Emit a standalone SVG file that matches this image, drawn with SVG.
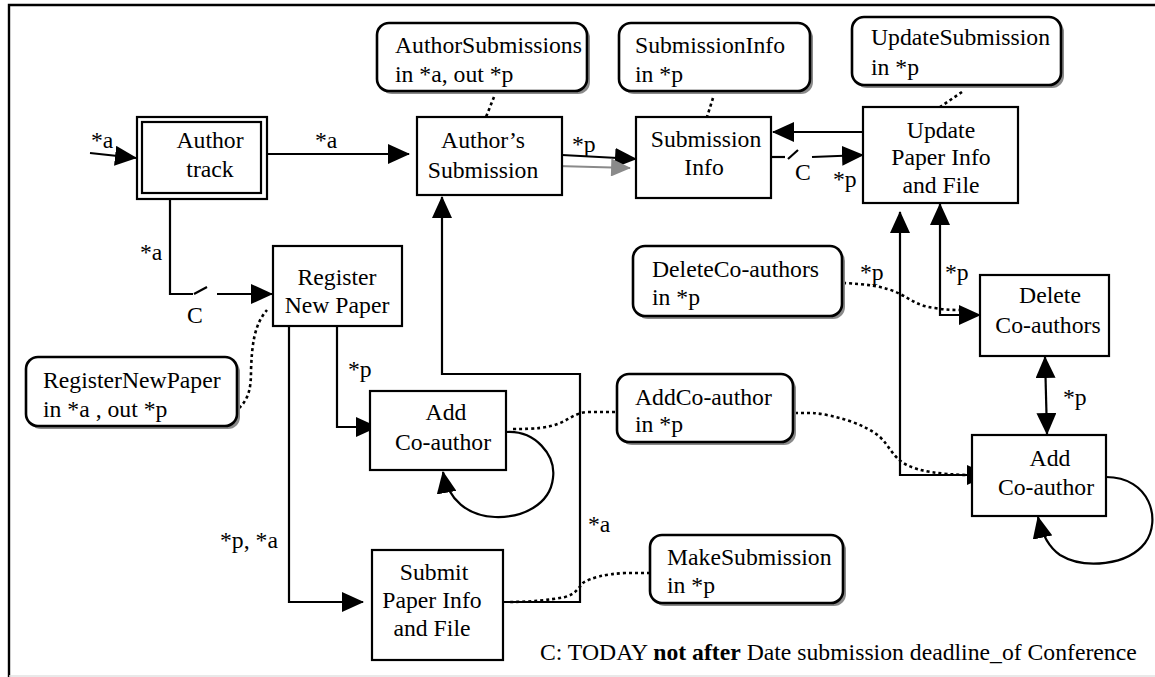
<svg xmlns="http://www.w3.org/2000/svg" width="1155" height="677" viewBox="0 0 1155 677">
  <defs>
    <style>
      text { font-family: "Liberation Serif", "Times New Roman", serif; font-size: 23.7px; fill: #000; }
      .mid { text-anchor: middle; }
      .box { fill: #fff; stroke: #000; stroke-width: 2.2; }
      .note { fill: #fff; stroke: #000; stroke-width: 2.6; }
      .shadow { fill: #8a8a8a; stroke: none; }
      .link { fill: none; stroke: #000; stroke-width: 2.2; }
      .dots { fill: none; stroke: #000; stroke-width: 2.6; stroke-dasharray: 3 3; }
      .grey { fill: none; stroke: #8a8a8a; stroke-width: 2.2; }
    </style>
    <marker id="arr" markerUnits="userSpaceOnUse" viewBox="0 0 22 20" markerWidth="22" markerHeight="20" refX="21" refY="10" orient="auto-start-reverse">
      <path d="M0,0 L22,10 L0,20 Z" fill="#000"/>
    </marker>
    <marker id="arrGrey" markerUnits="userSpaceOnUse" viewBox="0 0 22 20" markerWidth="22" markerHeight="18" refX="21" refY="10" orient="auto">
      <path d="M0,0 L22,10 L0,20 Z" fill="#8a8a8a"/>
    </marker>
  </defs>

  <rect width="1155" height="677" fill="#fff"/>

  <!-- frame -->
  <path d="M9,677 L9,5 L1155,5" fill="none" stroke="#000" stroke-width="2.4"/>
  <line x1="9" y1="676" x2="1155" y2="676" stroke="#e2e2e2" stroke-width="1.5"/>

  <!-- connectors -->
  <g id="connectors">
    <!-- into Author track -->
    <line class="link" x1="90" y1="153" x2="136" y2="158" marker-end="url(#arr)"/>
    <text x="91" y="148">*a</text>
    <!-- Author track to Author's Submission -->
    <line class="link" x1="267" y1="154" x2="409" y2="154" marker-end="url(#arr)"/>
    <text x="315" y="148">*a</text>
    <!-- Author track to Register New Paper, guarded by C -->
    <path class="link" d="M170,199 L170,294 L193,294"/>
    <line class="link" x1="194" y1="294" x2="207" y2="287"/>
    <line class="link" x1="217" y1="294" x2="272" y2="294" marker-end="url(#arr)"/>
    <text x="140" y="260">*a</text>
    <text x="187" y="323">C</text>
    <!-- Author's Submission to Submission Info -->
    <line class="link" x1="562" y1="155" x2="636" y2="159" marker-end="url(#arr)"/>
    <line class="grey" x1="557" y1="166" x2="630" y2="168" marker-end="url(#arrGrey)"/>
    <text x="572" y="152">*p</text>
    <!-- Update back to Submission Info -->
    <line class="link" x1="863" y1="132" x2="773" y2="132" marker-end="url(#arr)"/>
    <!-- Submission Info to Update, guarded by C -->
    <line class="link" x1="771" y1="157" x2="785" y2="157"/>
    <line class="link" x1="788" y1="159" x2="798" y2="150"/>
    <line class="link" x1="812" y1="157" x2="863" y2="155" marker-end="url(#arr)"/>
    <text x="795" y="180">C</text>
    <text x="833" y="187">*p</text>
    <!-- Register New Paper to Add Co-author -->
    <path class="link" d="M337,326 L337,427 L377,427" marker-end="url(#arr)"/>
    <text x="348" y="377">*p</text>
    <!-- Register New Paper to Submit -->
    <path class="link" d="M289,326 L289,602 L363,602" marker-end="url(#arr)"/>
    <text x="220" y="548">*p, *a</text>
    <!-- Submit back to Author's Submission -->
    <path class="link" d="M503,602 L580,602 L580,374 L442,374 L442,197" marker-end="url(#arr)"/>
    <text x="588" y="532">*a</text>
    <!-- Add Co-author repeat loop -->
    <path class="link" d="M506,432 C535,430 556,455 553,478 C550,505 522,518 495,517 C468,516 448,500 443,472" marker-end="url(#arr)"/>
    <!-- Update <-> Add Co-author (right) -->
    <path class="link" d="M900,212 L900,475 L988,475" marker-start="url(#arr)" marker-end="url(#arr)"/>
    <!-- Update <-> Delete Co-authors -->
    <path class="link" d="M940,204 L940,315 L980,315" marker-start="url(#arr)" marker-end="url(#arr)"/>
    <text x="945" y="280">*p</text>
    <text x="860" y="280">*p</text>
    <!-- Delete Co-authors <-> Add Co-author -->
    <line class="link" x1="1045" y1="357" x2="1047" y2="434" marker-start="url(#arr)" marker-end="url(#arr)"/>
    <text x="1063" y="405">*p</text>
    <!-- Add Co-author (right) repeat loop -->
    <path class="link" d="M1106,477 C1150,477 1162,520 1145,543 C1128,565 1085,570 1060,555 C1050,548 1042,535 1038,517" marker-end="url(#arr)"/>

    <!-- dotted links from the operation notes -->
    <path class="dots" d="M494,97 L486,117"/>
    <path class="dots" d="M713,98 L707,117"/>
    <path class="dots" d="M962,92 L940,107"/>
    <path class="dots" d="M239,408 C250,398 251,385 251,370 C252,345 254,325 267,310"/>
    <path class="dots" d="M843,283 C865,284 885,286 900,294 C912,300 918,306 935,308 C945,310 955,310 962,310"/>
    <path class="dots" d="M615,412 L587,412 C575,413 568,420 560,423 C548,428 535,429 513,429"/>
    <path class="dots" d="M795,413 L813,413 C835,415 865,424 880,437 C890,447 893,457 905,464 C920,472 940,474 966,475"/>
    <path class="dots" d="M650,573 L625,573 C605,574 590,578 583,583 C577,590 575,594 565,597 C550,600 530,602 508,602"/>
  </g>

  <!-- nodes -->
  <g id="author-track">
    <rect class="box" x="137" y="117" width="130" height="82"/>
    <rect class="box" x="142" y="122" width="119" height="71"/>
    <text class="mid" x="210" y="148">Author</text>
    <text class="mid" x="210" y="177">track</text>
  </g>

  <g id="authors-submission">
    <rect class="box" x="417" y="117" width="145" height="78"/>
    <text class="mid" x="483" y="148">Author’s</text>
    <text class="mid" x="483" y="178">Submission</text>
  </g>

  <g id="submission-info">
    <rect class="box" x="636" y="117" width="135" height="81"/>
    <text class="mid" x="706" y="147">Submission</text>
    <text class="mid" x="704" y="175">Info</text>
  </g>

  <g id="update-paper">
    <rect class="box" x="863" y="107" width="155" height="96"/>
    <text class="mid" x="941" y="138">Update</text>
    <text class="mid" x="941" y="165">Paper Info</text>
    <text class="mid" x="941" y="193">and File</text>
  </g>

  <g id="register-new-paper">
    <rect class="box" x="273" y="246" width="129" height="80"/>
    <text class="mid" x="337" y="285">Register</text>
    <text class="mid" x="337" y="313">New Paper</text>
  </g>

  <g id="add-coauthor-left">
    <rect class="box" x="370" y="391" width="136" height="79"/>
    <text class="mid" x="446" y="420">Add</text>
    <text class="mid" x="443" y="450">Co-author</text>
  </g>

  <g id="submit-paper">
    <rect class="box" x="372" y="550" width="131" height="110"/>
    <text class="mid" x="434" y="580">Submit</text>
    <text class="mid" x="432" y="608">Paper Info</text>
    <text class="mid" x="432" y="636">and File</text>
  </g>

  <g id="delete-coauthors">
    <rect class="box" x="980" y="275" width="129" height="81"/>
    <text class="mid" x="1050" y="303">Delete</text>
    <text class="mid" x="1048" y="333">Co-authors</text>
  </g>

  <g id="add-coauthor-right">
    <rect class="box" x="972" y="435" width="134" height="81"/>
    <text class="mid" x="1050" y="466">Add</text>
    <text class="mid" x="1046" y="495">Co-author</text>
  </g>

  <!-- operation notes -->
  <g id="note-author-submissions">
    <rect class="shadow" x="380" y="26" width="210" height="68" rx="12"/>
    <rect class="note" x="377" y="23" width="210" height="68" rx="12"/>
    <text x="395" y="53">AuthorSubmissions</text>
    <text x="395" y="82">in *a, out *p</text>
  </g>

  <g id="note-submission-info">
    <rect class="shadow" x="622" y="26" width="191" height="68" rx="12"/>
    <rect class="note" x="619" y="23" width="191" height="68" rx="12"/>
    <text x="635" y="53">SubmissionInfo</text>
    <text x="635" y="82">in *p</text>
  </g>

  <g id="note-update-submission">
    <rect class="shadow" x="855" y="20" width="209" height="68" rx="12"/>
    <rect class="note" x="852" y="17" width="209" height="68" rx="12"/>
    <text x="871" y="45">UpdateSubmission</text>
    <text x="871" y="75">in *p</text>
  </g>

  <g id="note-register-new-paper">
    <rect class="shadow" x="29" y="360" width="211" height="69" rx="12"/>
    <rect class="note" x="26" y="357" width="211" height="69" rx="12"/>
    <text x="43" y="388">RegisterNewPaper</text>
    <text x="43" y="417">in *a , out *p</text>
  </g>

  <g id="note-delete-coauthors">
    <rect class="shadow" x="636" y="249" width="209" height="70" rx="12"/>
    <rect class="note" x="633" y="246" width="209" height="70" rx="12"/>
    <text x="652" y="277">DeleteCo-authors</text>
    <text x="652" y="305">in *p</text>
  </g>

  <g id="note-add-coauthor">
    <rect class="shadow" x="620" y="377" width="176" height="68" rx="12"/>
    <rect class="note" x="617" y="374" width="176" height="68" rx="12"/>
    <text x="635" y="405">AddCo-author</text>
    <text x="635" y="432">in *p</text>
  </g>

  <g id="note-make-submission">
    <rect class="shadow" x="653" y="538" width="193" height="68" rx="12"/>
    <rect class="note" x="650" y="535" width="193" height="68" rx="12"/>
    <text x="667" y="565">MakeSubmission</text>
    <text x="667" y="593">in *p</text>
  </g>

  <!-- guard condition legend -->
  <text x="540" y="660">C: TODAY <tspan font-weight="bold">not after</tspan> Date submission deadline_of Conference</text>
</svg>
